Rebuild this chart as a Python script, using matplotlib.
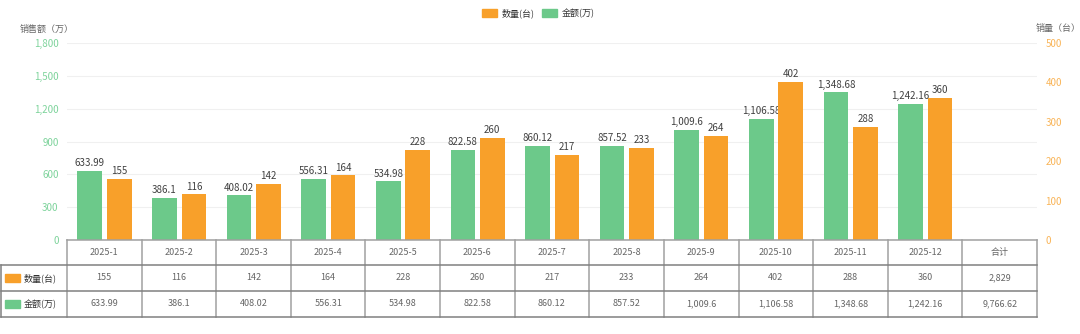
import matplotlib
matplotlib.use("Agg")
import matplotlib.pyplot as plt
from matplotlib.transforms import blended_transform_factory
from matplotlib.patches import Rectangle
from matplotlib.lines import Line2D
import numpy as np

plt.rcParams['font.family'] = ['Noto Sans CJK SC', 'DejaVu Sans']

months = ["2025-1", "2025-2", "2025-3", "2025-4", "2025-5", "2025-6",
          "2025-7", "2025-8", "2025-9", "2025-10", "2025-11", "2025-12"]
qty = [155, 116, 142, 164, 228, 260, 217, 233, 264, 402, 288, 360]
amount = [633.99, 386.1, 408.02, 556.31, 534.98, 822.58,
          860.12, 857.52, 1009.6, 1106.58, 1348.68, 1242.16]
total_label = "合计"
qty_total = 2829
amount_total = 9766.62

GREEN = "#6cc98a"
ORANGE = "#f8a02a"
GREEN_TXT = "#7dd39b"
ORANGE_TXT = "#f9b457"
GRID = "#f0f0f0"
TABLE_LINE = "#a0a0a0"


def fmt(v):
    return f"{v:,.2f}".rstrip("0").rstrip(".")


W, H = 1080, 334
fig = plt.figure(figsize=(W / 100, H / 100), dpi=100)


def fx(px):
    return px / W


def fy(py):
    return 1 - py / H


ax = fig.add_axes([fx(67), fy(240), fx(1037) - fx(67), fy(43) - fy(240)])
ax2 = ax.twinx()

n = len(months)
x = np.arange(n)
bw = 0.33
ax.bar(x - 0.195, amount, width=bw, color=GREEN, zorder=2)
ax2.bar(x + 0.2, qty, width=bw, color=ORANGE, zorder=2)

for xi, v in zip(x, amount):
    ax.text(xi - 0.195, v + 25, fmt(v), ha="center", va="bottom",
            fontsize=7, color="#404040")
for xi, v in zip(x, qty):
    ax2.text(xi + 0.2, v + 7, fmt(v), ha="center", va="bottom",
             fontsize=7, color="#404040")

ax.set_xlim(-0.5, n + 0.5)
ax.set_ylim(0, 1800)
ax.set_yticks(np.arange(0, 1801, 300))
ax.set_yticklabels([f"{t:,}" for t in range(0, 1801, 300)])
ax2.set_ylim(0, 500)
ax2.set_yticks(np.arange(0, 501, 100))
ax.grid(axis="y", color=GRID, linewidth=0.8, zorder=0)
ax.set_axisbelow(True)
ax.set_xticks([])

for a in (ax, ax2):
    for s in a.spines.values():
        s.set_visible(False)
ax.tick_params(axis="y", length=0, labelsize=7, labelcolor=GREEN_TXT, pad=6)
ax2.tick_params(axis="y", length=0, labelsize=7, labelcolor=ORANGE_TXT, pad=6)

# axis titles
fig.text(fx(20), fy(29), "销售额（万）", fontsize=6.5, color="#666666",
         ha="left", va="center")
fig.text(fx(1036), fy(29), "销量（台）", fontsize=6.5, color="#666666",
         ha="left", va="center")

# legend
fig.patches.append(Rectangle((fx(482), fy(17)), fx(15), fy(9) - fy(17),
                             transform=fig.transFigure, color=ORANGE))
fig.text(fx(502), fy(13), "数量(台)", fontsize=6.5, color="#333333", va="center")
fig.patches.append(Rectangle((fx(542), fy(17)), fx(15), fy(9) - fy(17),
                             transform=fig.transFigure, color=GREEN))
fig.text(fx(562), fy(13), "金额(万)", fontsize=6.5, color="#333333", va="center")

# data table below the chart
tr = blended_transform_factory(ax.transData, fig.transFigure)
rows_y = [240, 265, 291, 317]
left_px = 1

header = months + [total_label]
qty_row = [fmt(v) for v in qty] + [fmt(qty_total)]
amt_row = [fmt(v) for v in amount] + [fmt(amount_total)]

for i in range(n + 2):
    xb = i - 0.5
    fig.add_artist(Line2D([xb, xb], [fy(rows_y[0]), fy(rows_y[-1])],
                          transform=tr, color=TABLE_LINE, linewidth=1.1))
for j, yy in enumerate(rows_y):
    if j == 0:
        fig.add_artist(Line2D([-0.5, n + 0.5], [fy(yy), fy(yy)], transform=tr,
                              color=TABLE_LINE, linewidth=1.1))
    else:
        fig.add_artist(Line2D([fx(left_px), fx(1037)], [fy(yy), fy(yy)],
                              transform=fig.transFigure, color="#808080",
                              linewidth=1.1))
fig.add_artist(Line2D([fx(left_px), fx(left_px)], [fy(rows_y[1]), fy(rows_y[-1])],
                      transform=fig.transFigure, color="#808080", linewidth=1.1))

for row, ytop, ybot in [(header, rows_y[0], rows_y[1]),
                        (qty_row, rows_y[1], rows_y[2]),
                        (amt_row, rows_y[2], rows_y[3])]:
    yc = fy((ytop + ybot) / 2)
    for i, txt in enumerate(row):
        ax.text(i, yc, txt, transform=tr, ha="center", va="center",
                fontsize=6.5, color="#666666", clip_on=False)

for label, color, ytop, ybot in [("数量(台)", ORANGE, rows_y[1], rows_y[2]),
                                 ("金额(万)", GREEN, rows_y[2], rows_y[3])]:
    yc = (ytop + ybot) / 2
    fig.patches.append(Rectangle((fx(5), fy(yc + 4)), fx(15), fy(yc - 4) - fy(yc + 4),
                                 transform=fig.transFigure, color=color))
    fig.text(fx(24), fy(yc), label, fontsize=6.5, color="#333333", va="center")

fig.savefig("out.png", dpi=100, facecolor="white")
